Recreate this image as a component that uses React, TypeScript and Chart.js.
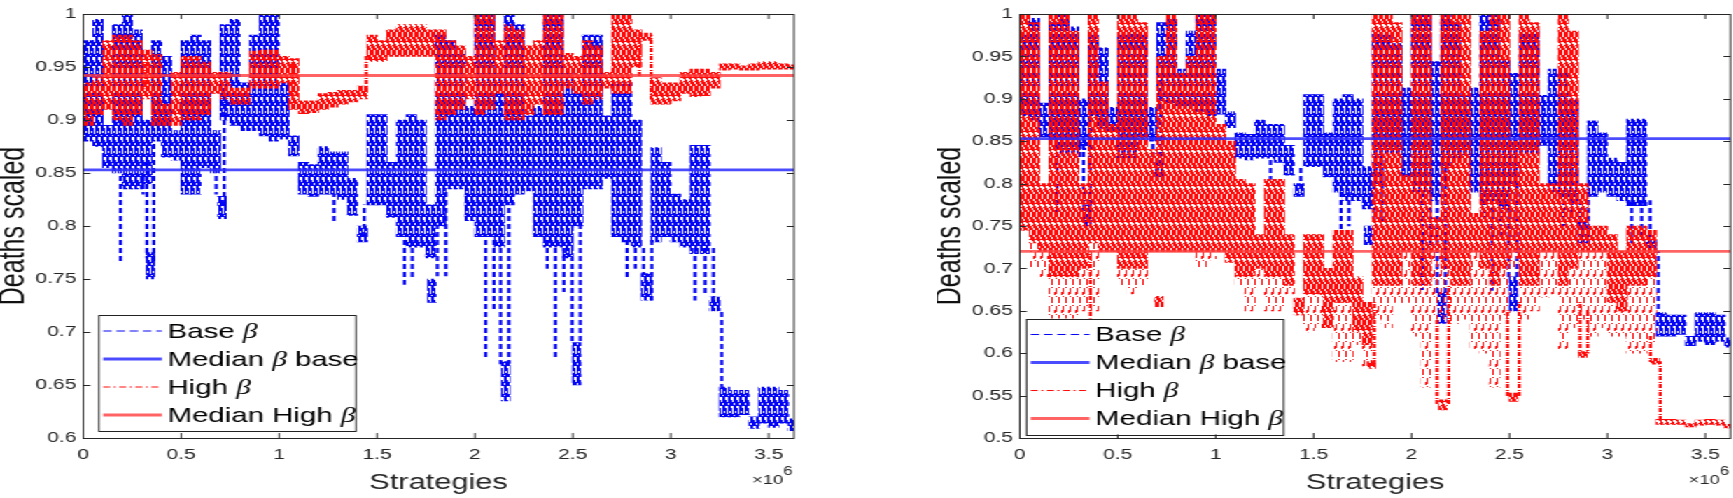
import React, { useEffect, useRef } from 'react';
import Chart from 'chart.js/auto';

const X_MAX = 3628800;
const BIN = 50000;
const binCenters = Array.from({ length: 73 }, (_, i) => (i + 0.5) * BIN);

const xTicks = [0, 0.5, 1, 1.5, 2, 2.5, 3, 3.5];
const Y_STEP = 0.05;
const leftYMin = 0.6;
const rightYMin = 0.5;
const Y_MAX = 1;

// Base beta (same run in both panels): dense band per bin
const baseLo = [
  0.88, 0.875, 0.855, 0.85, 0.835, 0.835, 0.84, 0.88, 0.865, 0.862,
  0.83, 0.83, 0.855, 0.85, 0.9, 0.895, 0.89, 0.89, 0.885, 0.88,
  0.882, 0.866, 0.83, 0.828, 0.83, 0.83, 0.825, 0.81, 0.785, 0.82,
  0.82, 0.808, 0.79, 0.78, 0.78, 0.77, 0.8, 0.835, 0.835, 0.805,
  0.79, 0.79, 0.78, 0.82, 0.83, 0.833, 0.79, 0.78, 0.78, 0.77,
  0.8, 0.835, 0.835, 0.845, 0.79, 0.785, 0.78, 0.73, 0.785, 0.79,
  0.785, 0.78, 0.774, 0.774, 0.72, 0.62, 0.62, 0.622, 0.609, 0.614,
  0.61, 0.614, 0.607,
];
const baseHi = [
  0.975, 0.995, 0.895, 0.99, 1.0, 0.985, 0.9, 0.975, 0.96, 0.89,
  0.975, 0.98, 0.975, 0.89, 0.99, 0.995, 0.935, 0.98, 1.0, 1.0,
  0.935, 0.885, 0.86, 0.858, 0.875, 0.87, 0.87, 0.845, 0.8, 0.905,
  0.905, 0.86, 0.9, 0.905, 0.9, 0.82, 0.98, 0.975, 0.965, 0.913,
  1.0, 1.0, 0.944, 1.0, 0.99, 0.904, 0.913, 1.0, 1.0, 0.945,
  0.93, 0.98, 0.98, 0.904, 0.935, 0.935, 0.9, 0.755, 0.874, 0.86,
  0.83, 0.825, 0.876, 0.876, 0.733, 0.648, 0.645, 0.645, 0.62, 0.648,
  0.648, 0.645, 0.618,
];
// thin dashed excursions (x in millions)
const baseSpikeX = [0.19, 0.306, 0.325, 0.36, 0.679, 0.72, 1.28, 1.435, 1.64, 1.68, 1.808, 1.851, 2.055, 2.097, 2.131, 2.173, 2.369, 2.411, 2.454, 2.496, 2.538, 2.777, 2.819, 2.861, 2.903, 3.124, 3.175, 3.218, 3.26];
const baseSpikeLo = [0.767, 0.83, 0.77, 0.765, 0.83, 0.82, 0.805, 0.79, 0.745, 0.75, 0.753, 0.753, 0.675, 0.72, 0.67, 0.67, 0.76, 0.674, 0.738, 0.69, 0.69, 0.75, 0.76, 0.755, 0.73, 0.73, 0.735, 0.73, 0.645];
const baseSpikeHi = [0.85, 0.85, 0.86, 0.88, 0.86, 0.93, 0.83, 0.82, 0.79, 0.79, 0.8, 0.835, 0.79, 0.79, 0.78, 0.82, 0.79, 0.78, 0.78, 0.77, 0.8, 0.79, 0.78, 0.78, 0.79, 0.78, 0.78, 0.78, 0.72];
// small dense clusters
const baseClusterX = [0.343, 0.709, 1.78, 2.157, 2.52];
const baseClusterLo = [0.75, 0.807, 0.728, 0.635, 0.65];
const baseClusterHi = [0.775, 0.828, 0.75, 0.672, 0.69];
const baseMedian = 0.853;

// High beta, left panel
const highALo = [
  0.895, 0.905, 0.91, 0.9, 0.895, 0.905, 0.92, 0.895, 0.895, 0.895,
  0.9, 0.9, 0.905, 0.925, 0.92, 0.915, 0.915, 0.93, 0.93, 0.93,
  0.935, 0.91, 0.906, 0.907, 0.91, 0.912, 0.915, 0.917, 0.92, 0.955,
  0.955, 0.96, 0.96, 0.96, 0.96, 0.96, 0.9, 0.905, 0.91, 0.92,
  0.905, 0.91, 0.925, 0.9, 0.9, 0.905, 0.915, 0.905, 0.905, 0.93,
  0.925, 0.915, 0.92, 0.93, 0.925, 0.925, 0.95, 0.975, 0.915, 0.915,
  0.918, 0.925, 0.922, 0.923, 0.93, 0.947, 0.948, 0.947, 0.947, 0.948,
  0.948, 0.948, 0.948,
];
const highAHi = [
  0.935, 0.94, 0.975, 0.98, 0.98, 0.975, 0.966, 0.962, 0.915, 0.945,
  0.96, 0.96, 0.955, 0.945, 0.945, 0.93, 0.93, 0.965, 0.966, 0.966,
  0.96, 0.958, 0.918, 0.918, 0.925, 0.926, 0.928, 0.928, 0.932, 0.98,
  0.975, 0.985, 0.99, 0.99, 0.99, 0.985, 0.985, 0.975, 0.97, 0.96,
  1.0, 1.0, 0.975, 0.99, 0.985, 0.97, 0.975, 1.0, 1.0, 0.963,
  0.96, 0.975, 0.97, 0.945, 1.0, 1.0, 0.985, 0.982, 0.94, 0.935,
  0.935, 0.945, 0.948, 0.948, 0.945, 0.953, 0.953, 0.951, 0.953, 0.955,
  0.955, 0.953, 0.952,
];
const highASpikeX = [0.32, 1.07, 1.445, 2.84, 2.9];
const highASpikeLo = [0.93, 0.91, 0.925, 0.94, 0.92];
const highASpikeHi = [0.962, 0.955, 0.96, 0.98, 0.98];
const highAMedian = 0.942;

// High beta, right panel: dense band plus sparser tail below it
const highBLo = [
  0.745, 0.73, 0.72, 0.69, 0.69, 0.69, 0.7, 0.73, 0.72, 0.72,
  0.7, 0.7, 0.7, 0.72, 0.72, 0.72, 0.72, 0.72, 0.72, 0.72,
  0.72, 0.71, 0.69, 0.69, 0.7, 0.69, 0.69, 0.68, 0.645, 0.67,
  0.67, 0.63, 0.66, 0.66, 0.625, 0.61, 0.68, 0.68, 0.68, 0.72,
  0.68, 0.68, 0.72, 0.7, 0.68, 0.68, 0.72, 0.7, 0.68, 0.7,
  0.72, 0.68, 0.68, 0.72, 0.72, 0.68, 0.7, 0.72, 0.72, 0.72,
  0.66, 0.65, 0.68, 0.68, 0.69, 0.516, 0.516, 0.516, 0.513, 0.515,
  0.516, 0.515, 0.512,
];
const highBHi = [
  1.0, 0.99, 0.8, 1.0, 1.0, 0.98, 0.8, 1.0, 0.92, 0.87,
  1.0, 1.0, 0.99, 0.84, 0.95, 1.0, 0.93, 0.95, 1.0, 1.0,
  0.87, 0.85, 0.805, 0.8, 0.74, 0.805, 0.805, 0.74, 0.665, 0.74,
  0.74, 0.7, 0.745, 0.745, 0.69, 0.66, 1.0, 1.0, 0.99, 0.81,
  1.0, 1.0, 0.76, 1.0, 1.0, 1.0, 0.765, 0.98, 1.0, 1.0,
  0.85, 1.0, 0.99, 0.8, 0.8, 1.0, 0.98, 0.8, 0.75, 0.75,
  0.74, 0.72, 0.75, 0.75, 0.745, 0.522, 0.522, 0.521, 0.517, 0.521,
  0.522, 0.521, 0.516,
];
const highBTail = [
  0.745, 0.7, 0.69, 0.64, 0.64, 0.64, 0.65, 0.65, 0.72, 0.72,
  0.68, 0.67, 0.68, 0.72, 0.72, 0.72, 0.72, 0.72, 0.7, 0.71,
  0.72, 0.71, 0.68, 0.65, 0.68, 0.65, 0.65, 0.67, 0.645, 0.625,
  0.63, 0.63, 0.59, 0.59, 0.61, 0.585, 0.64, 0.63, 0.66, 0.66,
  0.62, 0.56, 0.64, 0.64, 0.635, 0.64, 0.605, 0.6, 0.56, 0.64,
  0.7, 0.64, 0.65, 0.666, 0.67, 0.605, 0.63, 0.64, 0.62, 0.63,
  0.62, 0.62, 0.6, 0.6, 0.61, 0.516, 0.516, 0.516, 0.513, 0.515,
  0.516, 0.515, 0.512,
];
const highBSpikeX = [0.36, 1.81, 2.13, 2.19, 2.49, 2.55, 2.86, 2.9, 3.22, 3.27];
const highBSpikeLo = [0.64, 0.585, 0.54, 0.54, 0.55, 0.55, 0.6, 0.6, 0.59, 0.52];
const highBSpikeHi = [0.72, 0.66, 0.64, 0.68, 0.65, 0.66, 0.66, 0.65, 0.62, 0.59];
const highBClusterX = [0.71, 1.07, 1.795, 2.16, 2.52, 2.875, 3.245];
const highBClusterLo = [0.655, 0.707, 0.582, 0.533, 0.543, 0.595, 0.587];
const highBClusterHi = [0.667, 0.716, 0.59, 0.545, 0.553, 0.602, 0.594];
const highBMedian = 0.72;

// layout (drawn narrow, then stretched sideways like the exported figure)
const K = 1.4;
const CANVAS_W = 570;
const Y_AXIS_W = 59.5;
const PLOT_W = 507.6;
const PANEL2_X = 668.6;
const CORE_W = (PLOT_W * BIN) / X_MAX + 0.3;

const FONT = '"Liberation Sans", Arial, Helvetica, sans-serif';
const AXIS = '#262626';
const BLUE = '#0505f5';
const RED = '#ff0a0a';
const BLUE_MED = 'rgba(45,45,255,0.85)';
const RED_MED = 'rgba(255,60,60,0.8)';

function makePattern(color: string, w: number, h: number, rects: number[][]) {
  const c = document.createElement('canvas');
  c.width = w;
  c.height = h;
  const g = c.getContext('2d')!;
  g.fillStyle = color;
  rects.forEach(([x, y, rw, rh]) => g.fillRect(x, y, rw, rh));
  return g.createPattern(c, 'repeat') || color;
}

const bars = (xs: number[], lo: number[], hi: number[], scale = 1) =>
  xs.map((x, i) => ({ x: x * scale, y: [lo[i], hi[i]] }));

const legendItems: { parts: [string, boolean][]; color: string; width: number; dash: number[] }[] = [
  { parts: [['Base ', false], ['β', true]], color: BLUE, width: 1.2, dash: [6, 3.5] },
  { parts: [['Median ', false], ['β', true], [' base', false]], color: BLUE_MED, width: 2.8, dash: [] },
  { parts: [['High ', false], ['β', true]], color: RED, width: 1.2, dash: [5, 2.5, 1.5, 2.5] },
  { parts: [['Median High ', false], ['β', true]], color: RED_MED, width: 2.8, dash: [] },
];

const frame = {
  id: 'matlabFrame',
  afterDatasetsDraw(chart: any, _args: unknown, opts: any) {
    const { ctx, chartArea: a, scales } = chart;
    ctx.save();
    ctx.strokeStyle = AXIS;
    ctx.lineWidth = 1;
    ctx.setLineDash([]);
    ctx.beginPath();
    scales.x.ticks.forEach((t: any) => {
      const px = scales.x.getPixelForValue(t.value);
      ctx.moveTo(px, a.bottom);
      ctx.lineTo(px, a.bottom - 5);
      ctx.moveTo(px, a.top);
      ctx.lineTo(px, a.top + 5);
    });
    scales.y.ticks.forEach((t: any) => {
      const py = Math.round(scales.y.getPixelForValue(t.value)) + 0.5;
      ctx.moveTo(a.left, py);
      ctx.lineTo(a.left + 5, py);
      ctx.moveTo(a.right, py);
      ctx.lineTo(a.right - 5, py);
    });
    ctx.stroke();
    ctx.strokeRect(a.left, Math.round(a.top) + 0.5, a.right - a.left, Math.round(a.bottom - a.top));

    // x10^6 exponent
    ctx.fillStyle = AXIS;
    ctx.textAlign = 'right';
    ctx.textBaseline = 'middle';
    ctx.font = `12px ${FONT}`;
    const w6 = ctx.measureText('6').width;
    ctx.fillText('6', a.right - 1, a.bottom + 34);
    ctx.font = `13px ${FONT}`;
    ctx.fillText('×10', a.right - 1 - w6, a.bottom + 42);

    // legend box
    const bw = 183.6;
    const bh = 116;
    const bx = a.left + opts.dx;
    const by = a.bottom - opts.dy - bh;
    ctx.fillStyle = '#fff';
    ctx.fillRect(bx, by, bw, bh);
    ctx.strokeStyle = '#222';
    ctx.lineWidth = 1;
    ctx.strokeRect(bx, Math.round(by) + 0.5, bw, bh);
    legendItems.forEach((it, i) => {
      const y = by + 16 + 28 * i;
      ctx.beginPath();
      ctx.strokeStyle = it.color;
      ctx.lineWidth = it.width;
      ctx.setLineDash(it.dash);
      ctx.moveTo(bx + 3, y);
      ctx.lineTo(bx + 45, y);
      ctx.stroke();
      ctx.setLineDash([]);
      let tx = bx + 49;
      ctx.fillStyle = '#000';
      ctx.textAlign = 'left';
      ctx.textBaseline = 'middle';
      it.parts.forEach(([s, italic]) => {
        ctx.font = italic ? `italic 21px "Liberation Serif", serif` : `21px ${FONT}`;
        ctx.fillText(s, tx, y + 1);
        tx += ctx.measureText(s).width;
      });
    });
    ctx.restore();
  },
};

interface PanelProps {
  left: number;
  yMin: number;
  highLo: number[];
  highHi: number[];
  highTail: number[] | null;
  highSpikeX: number[];
  highSpikeLo: number[];
  highSpikeHi: number[];
  highClusterX: number[];
  highClusterLo: number[];
  highClusterHi: number[];
  highMedian: number;
  legendDx: number;
  legendDy: number;
}

const Panel: React.FC<PanelProps> = (p) => {
  const canvasRef = useRef<HTMLCanvasElement>(null);

  useEffect(() => {
    if (!canvasRef.current) return;
    // vertical streak fills standing in for the densely oscillating lines;
    // gaps sit at irregular heights so the texture stays vertical
    const blueFill = makePattern(BLUE, 4, 20, [
      [0, 0, 1, 3], [0, 5, 1, 10], [0, 16, 1, 4],
      [1, 0, 1, 11], [1, 13, 1, 7],
      [2, 0, 1, 6], [2, 8, 1, 9],
      [3, 2, 1, 4], [3, 14, 1, 3],
    ]);
    const blueDash = makePattern(BLUE, 2, 8, [[0, 0, 2, 5]]);
    const redFill = makePattern(RED, 4, 18, [
      [0, 0, 1, 7], [0, 9, 1, 1], [0, 12, 1, 6],
      [1, 0, 1, 1], [1, 3, 1, 9], [1, 14, 1, 4],
      [2, 0, 1, 3], [2, 5, 1, 1], [2, 8, 1, 10],
      [3, 1, 1, 5], [3, 10, 1, 4],
    ]);
    const redSparse = makePattern(RED, 5, 18, [
      [0, 0, 1, 6], [0, 8, 1, 1],
      [2, 9, 1, 6], [2, 17, 1, 1],
      [4, 4, 1, 3],
    ]);
    const redDash = makePattern(RED, 2, 8, [[0, 0, 2, 4], [0, 6, 2, 1]]);

    const datasets: any[] = [
      {
        type: 'line',
        data: [{ x: 0, y: p.highMedian }, { x: X_MAX, y: p.highMedian }],
        borderColor: RED_MED,
        borderWidth: 2.8,
        pointRadius: 0,
        order: 0,
      },
      {
        type: 'line',
        data: [{ x: 0, y: baseMedian }, { x: X_MAX, y: baseMedian }],
        borderColor: BLUE_MED,
        borderWidth: 2.8,
        pointRadius: 0,
        order: 1,
      },
      {
        type: 'bar',
        data: bars(p.highSpikeX, p.highSpikeLo, p.highSpikeHi, 1e6),
        backgroundColor: redDash,
        barThickness: 1.6,
        grouped: false,
        order: 2,
      },
      {
        type: 'bar',
        data: bars(p.highClusterX, p.highClusterLo, p.highClusterHi, 1e6),
        backgroundColor: redFill,
        barThickness: 6,
        grouped: false,
        order: 3,
      },
      {
        type: 'bar',
        data: bars(binCenters, p.highLo, p.highHi),
        backgroundColor: redFill,
        barThickness: CORE_W,
        grouped: false,
        order: 4,
      },
      {
        type: 'bar',
        data: p.highTail ? bars(binCenters, p.highTail, p.highLo) : [],
        backgroundColor: redSparse,
        barThickness: CORE_W,
        grouped: false,
        order: 5,
      },
      {
        type: 'bar',
        data: bars(baseSpikeX, baseSpikeLo, baseSpikeHi, 1e6),
        backgroundColor: blueDash,
        barThickness: 1.6,
        grouped: false,
        order: 6,
      },
      {
        type: 'bar',
        data: bars(baseClusterX, baseClusterLo, baseClusterHi, 1e6),
        backgroundColor: blueFill,
        barThickness: 6,
        grouped: false,
        order: 7,
      },
      {
        type: 'bar',
        data: bars(binCenters, baseLo, baseHi),
        backgroundColor: blueFill,
        barThickness: CORE_W,
        grouped: false,
        order: 8,
      },
    ];

    const chart = new Chart(canvasRef.current, {
      type: 'bar',
      data: { datasets },
      plugins: [frame],
      options: {
        animation: false,
        responsive: true,
        maintainAspectRatio: false,
        layout: {
          autoPadding: false,
          padding: { left: 0, right: CANVAS_W - Y_AXIS_W - PLOT_W, top: 6.5, bottom: 0 },
        },
        plugins: {
          legend: { display: false },
          tooltip: { enabled: false },
          matlabFrame: { dx: p.legendDx, dy: p.legendDy },
        } as any,
        scales: {
          x: {
            type: 'linear',
            min: 0,
            max: X_MAX,
            offset: false,
            grid: { display: false, drawTicks: false },
            border: { display: false },
            afterBuildTicks: (s: any) => {
              s.ticks = xTicks.map((v) => ({ value: v * 1e6 }));
            },
            ticks: {
              autoSkip: false,
              maxRotation: 0,
              padding: 8,
              color: AXIS,
              font: { family: FONT, size: 15 },
              callback: (v: any) => String(Number(v) / 1e6),
            },
            title: {
              display: true,
              text: 'Strategies',
              color: AXIS,
              font: { family: FONT, size: 22 },
              padding: { top: 0, bottom: 2 },
            },
            afterFit: (s: any) => {
              s.height = 60;
            },
          },
          y: {
            type: 'linear',
            min: p.yMin,
            max: Y_MAX,
            grid: { display: false, drawTicks: false },
            border: { display: false },
            ticks: {
              stepSize: Y_STEP,
              autoSkip: false,
              padding: 5,
              color: AXIS,
              font: { family: FONT, size: 15 },
              callback: (v: any) => String(parseFloat(Number(v).toFixed(2))),
            },
            title: {
              display: true,
              text: 'Deaths scaled',
              color: '#111',
              font: { family: FONT, size: 25, lineHeight: 0.8 },
              padding: 0,
            },
            afterFit: (s: any) => {
              s.width = Y_AXIS_W;
            },
          },
        },
      } as any,
    });

    return () => chart.destroy();
  }, [p]);

  return (
    <div style={{ position: 'absolute', left: p.left, top: 0, width: CANVAS_W, height: 498 }}>
      <canvas ref={canvasRef}></canvas>
    </div>
  );
};

const leftPanel: PanelProps = {
  left: 0,
  yMin: leftYMin,
  highLo: highALo,
  highHi: highAHi,
  highTail: null,
  highSpikeX: highASpikeX,
  highSpikeLo: highASpikeLo,
  highSpikeHi: highASpikeHi,
  highClusterX: [],
  highClusterLo: [],
  highClusterHi: [],
  highMedian: highAMedian,
  legendDx: 11.2,
  legendDy: 7,
};

const rightPanel: PanelProps = {
  left: PANEL2_X,
  yMin: rightYMin,
  highLo: highBLo,
  highHi: highBHi,
  highTail: highBTail,
  highSpikeX: highBSpikeX,
  highSpikeLo: highBSpikeLo,
  highSpikeHi: highBSpikeHi,
  highClusterX: highBClusterX,
  highClusterLo: highBClusterLo,
  highClusterHi: highBClusterHi,
  highMedian: highBMedian,
  legendDx: 4.8,
  legendDy: 3.5,
};

export default function App() {
  useEffect(() => {
    document.body.style.margin = '0';
  }, []);

  return (
    <div style={{ position: 'relative', width: 1733, height: 498, overflow: 'hidden', background: '#fff' }}>
      <div
        style={{
          position: 'absolute',
          left: 0,
          top: 0,
          width: 1733 / K,
          height: 498,
          transform: `scaleX(${K})`,
          transformOrigin: '0 0',
        }}
      >
        <Panel {...leftPanel} />
        <Panel {...rightPanel} />
      </div>
    </div>
  );
}
